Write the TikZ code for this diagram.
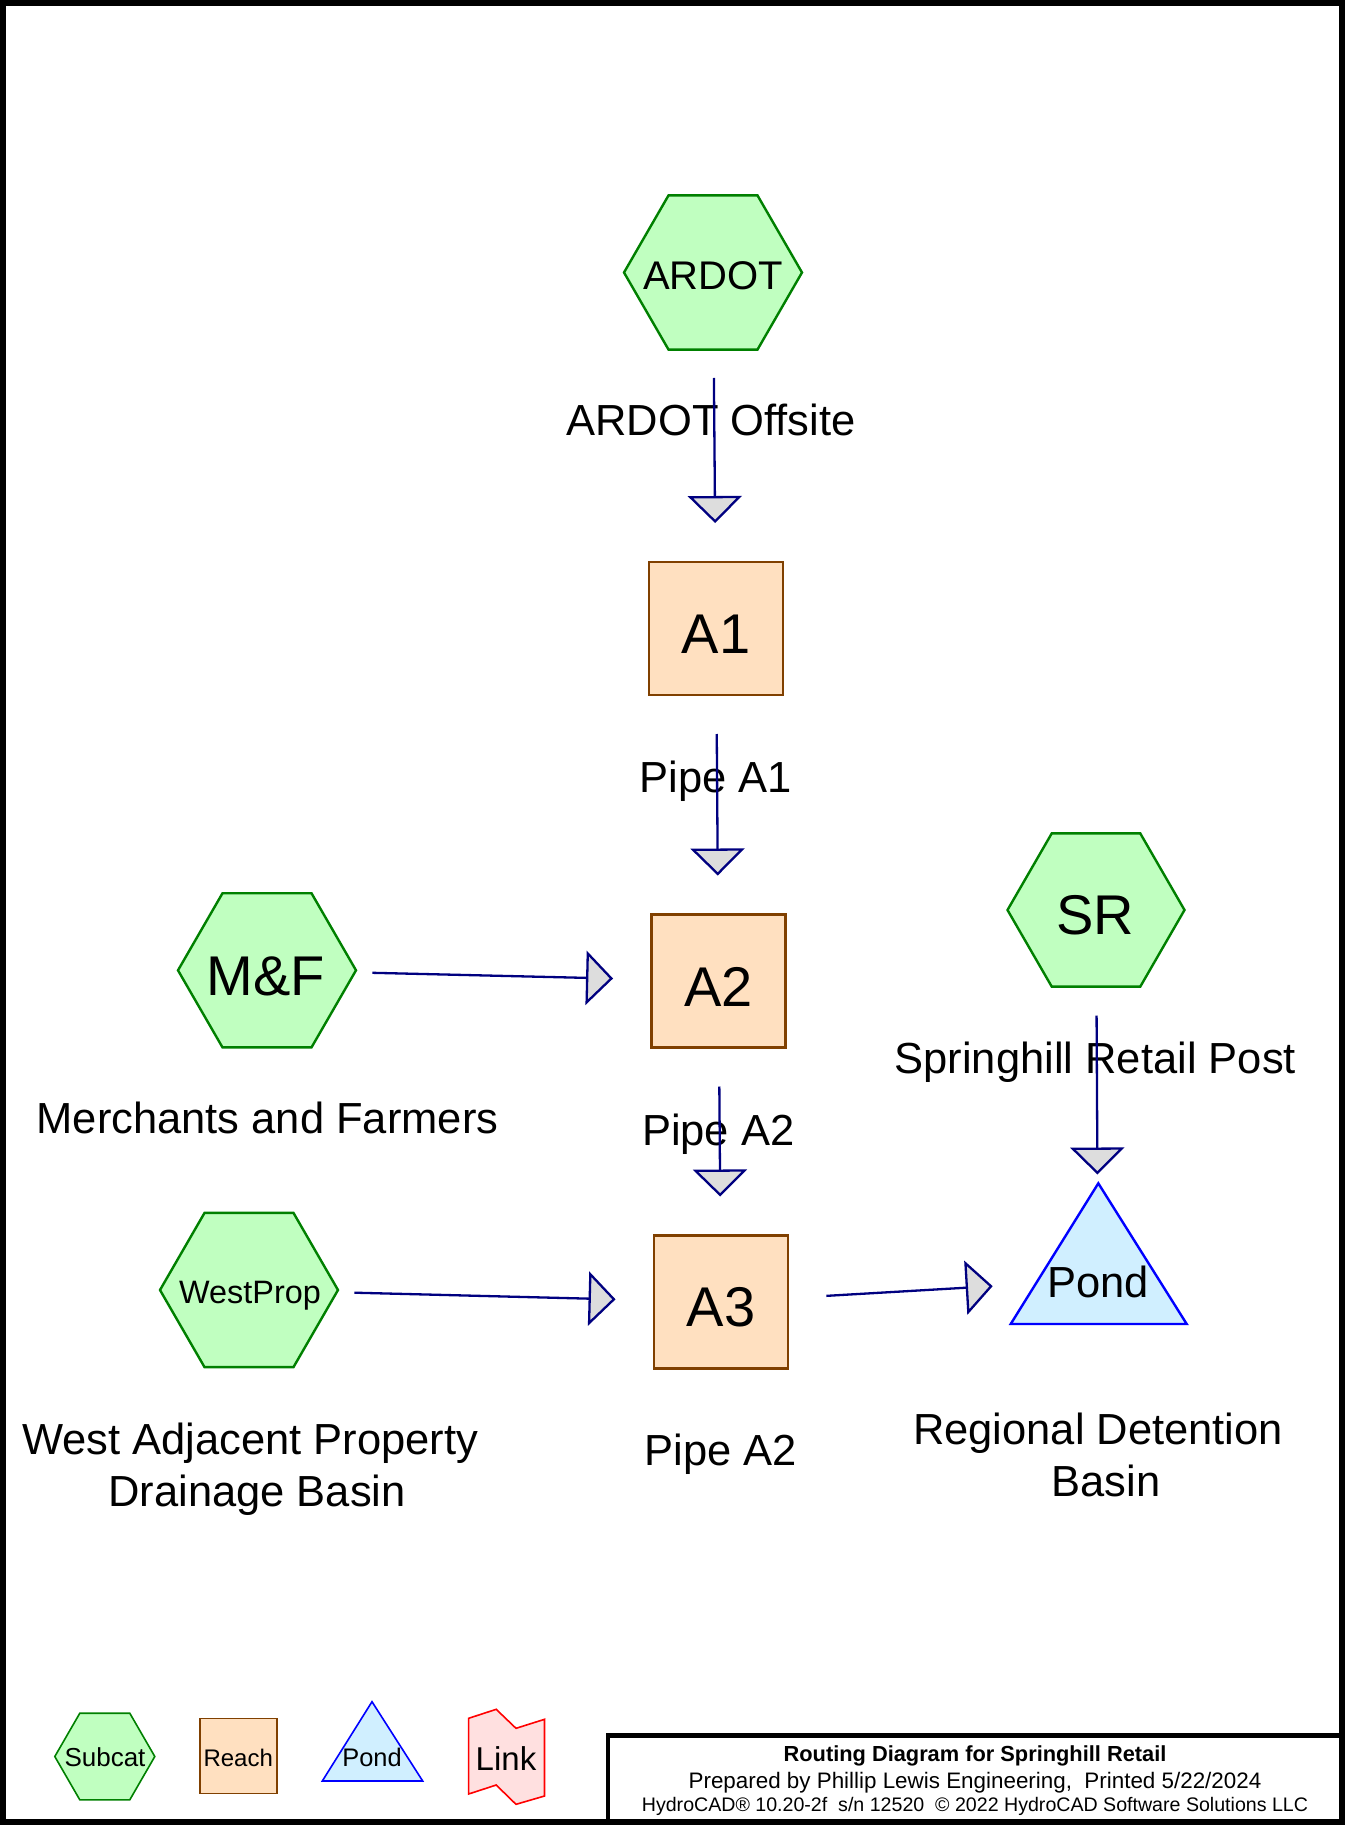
\documentclass[tikz,border=0pt]{standalone}
\usepackage{fontspec}
\setmainfont{Liberation Sans}
\usetikzlibrary{shapes.geometric,arrows.meta}
\definecolor{hexfill}{HTML}{C0FFC0}
\definecolor{hexline}{HTML}{008000}
\definecolor{boxfill}{HTML}{FFE0C0}
\definecolor{boxline}{HTML}{804000}
\definecolor{pondfill}{HTML}{D0EFFF}
\definecolor{pondline}{HTML}{0000FF}
\definecolor{linkfill}{HTML}{FFE0E0}
\definecolor{linkline}{HTML}{FF0000}
\definecolor{flowline}{HTML}{000080}
\definecolor{tipfill}{HTML}{DDDDDD}
\begin{document}
\begin{tikzpicture}[x=1pt,y=-1pt,
  subcat/.style={regular polygon, regular polygon sides=6, minimum size=178pt, inner sep=0pt,
    draw=hexline, fill=hexfill, line width=2.4pt},
  reach/.style={rectangle, minimum width=134pt, minimum height=133pt, inner sep=0pt,
    draw=boxline, fill=boxfill, line width=2.6pt},
  pondshape/.style={draw=pondline, fill=pondfill, line width=2.4pt, line join=miter},
  linkshape/.style={draw=linkline, fill=linkfill, line width=1.6pt},
  flow/.style={draw=flowline, line width=2.3pt, shorten <=105.5pt, shorten >=105.5pt,
    -{Triangle[width=54pt,length=27pt,fill=tipfill]}},
  txt/.style={anchor=base, inner sep=0pt},
  lbl/.style={txt, font=\fontsize{43.5}{52}\selectfont},
  big/.style={txt, font=\fontsize{56}{67}\selectfont}]
\useasboundingbox (0,0) rectangle (1345,1825);
\fill[white] (0,0) rectangle (1345,1825);

% main nodes
\node[subcat] (ardot) at (713,272.5) {};
\node[txt, font=\fontsize{40}{48}\selectfont] (ardott) at (713,289.3) {ARDOT};
\node[reach] (a1) at (716,628.5) {};
\node[big] (a1t) at (716,653.5) {A1};
\node[reach] (a2) at (718.5,981) {};
\node[big] (a2t) at (718.5,1006) {A2};
\node[reach] (a3) at (721,1302) {};
\node[big] (a3t) at (721,1326) {A3};
\node[subcat] (mf) at (267,970.3) {};
\node[big] (mft) at (266,995) {M\&F};
\node[subcat, minimum size=177pt] (sr) at (1096,910) {};
\node[big] (srt) at (1095.5,934.5) {SR};
\node[subcat] (wp) at (249,1290) {};
\node[txt, font=\fontsize{32.4}{39}\selectfont] (wpt) at (250,1303) {WestProp};

% pond
\draw[pondshape] (1010.7,1324) -- (1098.3,1183.3) -- (1186.7,1324) -- cycle;
\node[lbl] (pondtxt) at (1098.3,1297.7) {Pond};
\coordinate (pond) at (1098,1280);

% labels
\node[lbl] (lardot) at (711,435) {ARDOT Offsite};
\node[lbl] (la1) at (715.6,792) {Pipe A1};
\node[lbl] (la2) at (718.3,1145) {Pipe A2};
\node[lbl] (la3) at (720.8,1465) {Pipe A2};
\node[lbl] (lmf) at (267.5,1133.3) {Merchants and Farmers};
\node[lbl] (lsr) at (1095.3,1073.3) {Springhill Retail Post};
\node[lbl] (lwp1) at (250.3,1454.3) {West Adjacent Property};
\node[lbl] (lwp2) at (257,1506) {Drainage Basin};
\node[lbl] (lpond1) at (1098,1444) {Regional Detention};
\node[lbl] (lpond2) at (1105.8,1496) {Basin};

% flows
\draw[flow] (ardot.center) -- (a1.center);
\draw[flow] (a1.center) -- (a2.center);
\draw[flow] (mf.center) -- (a2.center);
\draw[flow] (a2.center) -- (a3.center);
\draw[flow] (sr.center) -- (pond);
\draw[flow] (wp.center) -- (a3.center);
\draw[flow] (a3.center) -- (pond);

% legend
\node[subcat, minimum size=100pt, line width=1.6pt] (lsub) at (104.8,1756.5) {};
\node[txt, font=\fontsize{26}{31}\selectfont] (lsubt) at (105,1766) {Subcat};
\node[reach, minimum width=77pt, minimum height=75pt, line width=1.8pt] (lreach) at (238.6,1756) {};
\node[txt, font=\fontsize{24}{29}\selectfont] (lreacht) at (238.2,1766) {Reach};
\draw[pondshape, line width=1.6pt] (322.3,1781) -- (372,1701.7) -- (422.7,1781) -- cycle;
\node[txt, font=\fontsize{25.4}{30}\selectfont] (lpond) at (372,1766) {Pond};
\draw[linkshape] (468.6,1718.3) -- (496.2,1709.3) -- (516,1728.3) -- (544.5,1719.3) -- (544.5,1796)
  -- (516,1804.3) -- (496.2,1785) -- (468.6,1794) -- cycle;
\node[txt, font=\fontsize{33}{40}\selectfont] (llink) at (506,1770) {Link};

% frame and title block
\draw[line width=6pt] (3,3) rectangle (1342,1822);
\draw[line width=4.5pt] (608,1735.5) rectangle (1342,1822);
\node[txt, font=\bfseries\fontsize{21.8}{26}\selectfont] (t1) at (975,1761) {Routing Diagram for Springhill Retail};
\node[txt, font=\fontsize{22.4}{27}\selectfont] (t2) at (975,1788) {Prepared by Phillip Lewis Engineering,~ Printed 5/22/2024};
\node[txt, font=\fontsize{19.6}{24}\selectfont] (t3) at (975,1811) {HydroCAD® 10.20-2f~ s/n 12520~ © 2022 HydroCAD Software Solutions LLC};
\end{tikzpicture}
\end{document}
